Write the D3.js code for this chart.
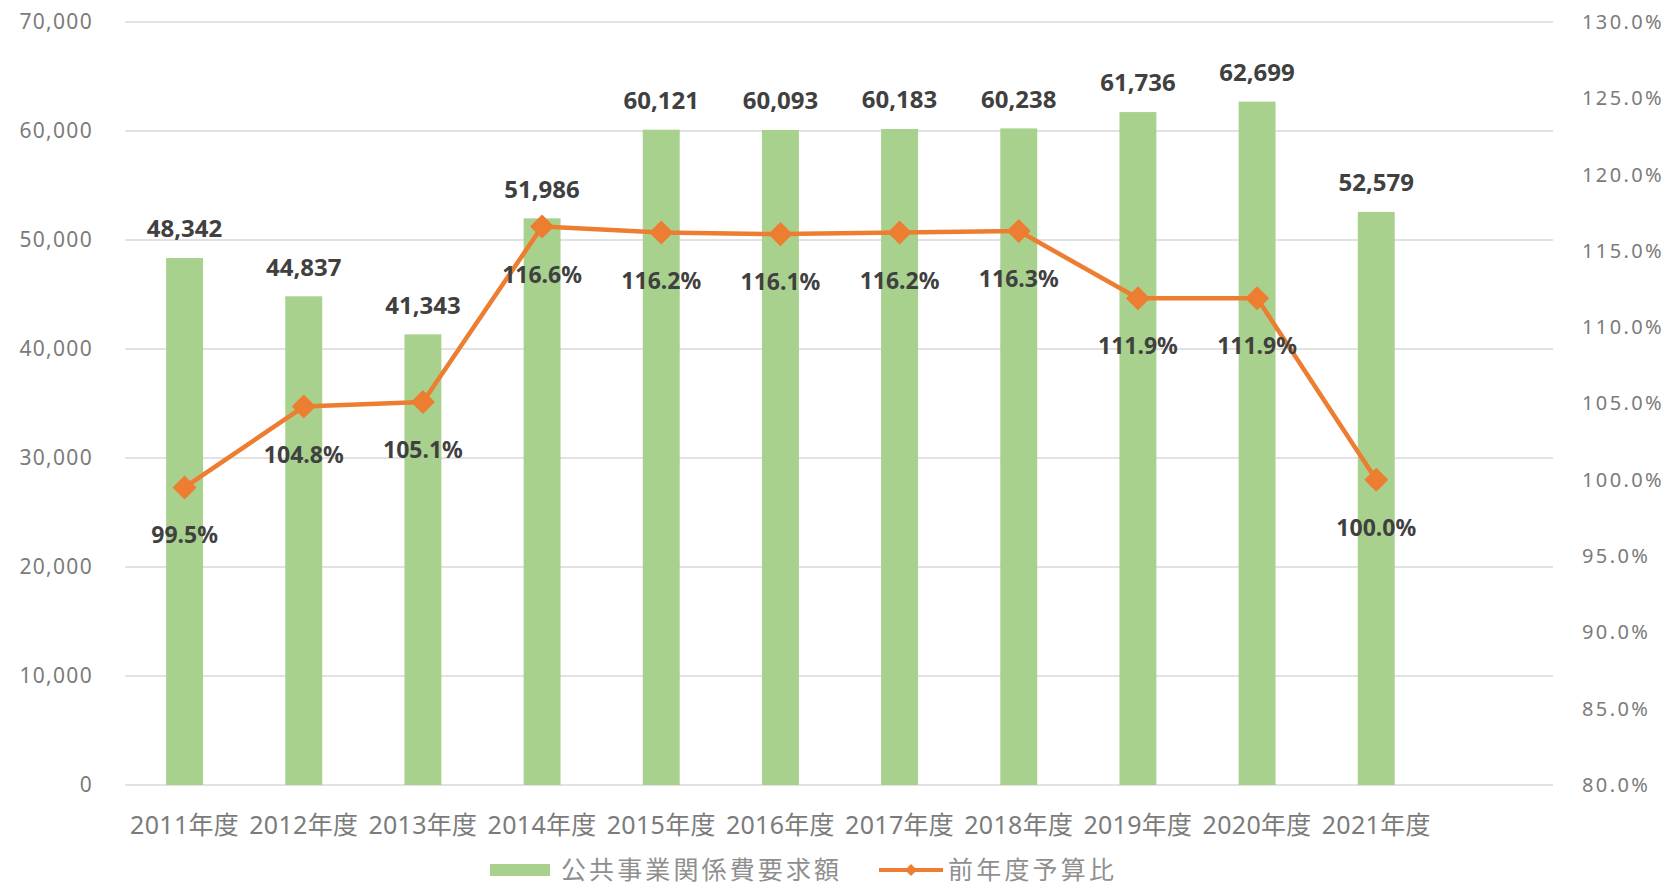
<!DOCTYPE html>
<html>
<head>
<meta charset="utf-8">
<script src="https://cdn.jsdelivr.net/npm/d3@7"></script>
<style>
  html, body { margin: 0; padding: 0; background: #fff; }
  svg { display: block; }
</style>
</head>
<body>
<svg id="chart" width="1674" height="889"></svg>
<script>
// Fiscal years (x categories)
const years = ["2011年度","2012年度","2013年度","2014年度","2015年度","2016年度","2017年度","2018年度","2019年度","2020年度","2021年度"];
// Public works budget request amounts (bars, left axis)
const requestAmounts = [48342, 44837, 41343, 51986, 60121, 60093, 60183, 60238, 61736, 62699, 52579];
// Ratio to previous year's budget, % (line, right axis)
const ratioToPrevYear = [99.5, 104.8, 105.1, 116.6, 116.2, 116.1, 116.2, 116.3, 111.9, 111.9, 100.0];
// Axis tick values
const leftTicks = [0, 10000, 20000, 30000, 40000, 50000, 60000, 70000];
const rightTicks = [80, 85, 90, 95, 100, 105, 110, 115, 120, 125, 130];
// Legend entries
const legendLabels = ["公共事業関係費要求額", "前年度予算比"];

const barColor = "#a9d18e";
const lineColor = "#ed7d31";
const gridColor = "#d9d9d9";
const axisText = "#7b7b7b";
const legendText = "#8f8f8f";
const labelText = "#404040";
const fontFamily = "'Noto Sans', 'Noto Sans CJK JP', sans-serif";

const svg = d3.select("#chart");
svg.append("rect").attr("width", 1674).attr("height", 889).attr("fill", "#fff");

const plot = { left: 125, right: 1555, top: 22, bottom: 785 };

// Band scale with one trailing empty slot, as in the original workbook layout
const x = d3.scaleBand()
  .domain([...years, "__spare__"])
  .range([plot.left, plot.right])
  .paddingInner(0.69)
  .paddingOuter(0.345);
const cx = d => x(d) + x.bandwidth() / 2;

const yLeft = d3.scaleLinear().domain([0, 70000]).range([plot.bottom, plot.top]);
const yRight = d3.scaleLinear().domain([80, 130]).range([plot.bottom, plot.top]);

// Horizontal gridlines
svg.append("g")
  .selectAll("line")
  .data(leftTicks)
  .join("line")
  .attr("x1", plot.left).attr("x2", plot.right - 2)
  .attr("y1", d => yLeft(d)).attr("y2", d => yLeft(d))
  .attr("stroke", gridColor).attr("stroke-width", 1.5);

// Left axis
const leftAxis = d3.axisLeft(yLeft).tickValues(leftTicks).tickFormat(d3.format(",")).tickSize(0).tickPadding(0);
svg.append("g")
  .attr("transform", `translate(93,0)`)
  .call(leftAxis)
  .call(g => g.select(".domain").remove())
  .call(g => g.selectAll("text")
    .attr("fill", axisText).attr("font-size", 21).attr("letter-spacing", 1.3)
    .attr("font-family", fontFamily));

// Right axis
const rightAxis = d3.axisRight(yRight).tickValues(rightTicks).tickFormat(d => d.toFixed(1) + "%").tickSize(0).tickPadding(0);
svg.append("g")
  .attr("transform", `translate(1582,0)`)
  .call(rightAxis)
  .call(g => g.select(".domain").remove())
  .call(g => g.selectAll("text")
    .attr("fill", axisText).attr("font-size", 20).attr("letter-spacing", 2.4)
    .attr("font-family", fontFamily));

// Bottom axis (year labels)
const bottomAxis = d3.axisBottom(x).tickValues(years).tickSize(0).tickPadding(0);
svg.append("g")
  .attr("transform", `translate(0,${plot.bottom + 40})`)
  .call(bottomAxis)
  .call(g => g.select(".domain").remove())
  .call(g => g.selectAll("text")
    .attr("dy", "0.35em")
    .attr("fill", axisText).attr("font-size", 25).attr("font-family", fontFamily)
    .attr("letter-spacing", 0.3));

// Bars
svg.append("g")
  .selectAll("rect")
  .data(years)
  .join("rect")
  .attr("x", d => x(d))
  .attr("y", (d, i) => yLeft(requestAmounts[i]))
  .attr("width", x.bandwidth())
  .attr("height", (d, i) => yLeft(0) - yLeft(requestAmounts[i]))
  .attr("fill", barColor);

// Ratio line
const line = d3.line()
  .x((d, i) => cx(years[i]))
  .y(d => yRight(d));
svg.append("path")
  .datum(ratioToPrevYear)
  .attr("d", line)
  .attr("fill", "none")
  .attr("stroke", lineColor)
  .attr("stroke-width", 4.5)
  .attr("stroke-linejoin", "round");

const diamond = r => `M0,${-r}L${r},0L0,${r}L${-r},0Z`;
svg.append("g")
  .selectAll("path")
  .data(ratioToPrevYear)
  .join("path")
  .attr("transform", (d, i) => `translate(${cx(years[i])},${yRight(d)})`)
  .attr("d", diamond(11))
  .attr("fill", lineColor)
  .attr("stroke", lineColor)
  .attr("stroke-width", 1.5)
  .attr("stroke-linejoin", "round");

// Bar value labels
svg.append("g")
  .selectAll("text")
  .data(requestAmounts)
  .join("text")
  .attr("x", (d, i) => cx(years[i]))
  .attr("y", d => yLeft(d) - 29)
  .attr("dy", "0.35em")
  .attr("text-anchor", "middle")
  .attr("font-size", 24)
  .attr("font-weight", "bold")
  .attr("font-family", fontFamily)
  .attr("fill", labelText)
  .text(d => d3.format(",")(d));

// Ratio labels under markers
svg.append("g")
  .selectAll("text")
  .data(ratioToPrevYear)
  .join("text")
  .attr("x", (d, i) => cx(years[i]))
  .attr("y", d => yRight(d) + 48)
  .attr("dy", "0.35em")
  .attr("text-anchor", "middle")
  .attr("font-size", 23)
  .attr("font-weight", "bold")
  .attr("font-family", fontFamily)
  .attr("fill", labelText)
  .text(d => d.toFixed(1) + "%");

// Legend
const legend = svg.append("g").attr("transform", "translate(490,870)");
legend.append("rect")
  .attr("x", 0).attr("y", -6).attr("width", 60).attr("height", 12)
  .attr("fill", barColor);
legend.append("text")
  .attr("x", 71).attr("y", 0).attr("dy", "0.35em")
  .attr("font-size", 25).attr("font-family", fontFamily).attr("fill", legendText)
  .attr("textLength", 278).attr("lengthAdjust", "spacing")
  .text(legendLabels[0]);
legend.append("line")
  .attr("x1", 389).attr("x2", 453).attr("y1", 0).attr("y2", 0)
  .attr("stroke", lineColor).attr("stroke-width", 4);
legend.append("path")
  .attr("transform", "translate(421,0)")
  .attr("d", diamond(6))
  .attr("fill", lineColor);
legend.append("text")
  .attr("x", 458).attr("y", 0).attr("dy", "0.35em")
  .attr("font-size", 25).attr("font-family", fontFamily).attr("fill", legendText)
  .attr("textLength", 166).attr("lengthAdjust", "spacing")
  .text(legendLabels[1]);
</script>
</body>
</html>
